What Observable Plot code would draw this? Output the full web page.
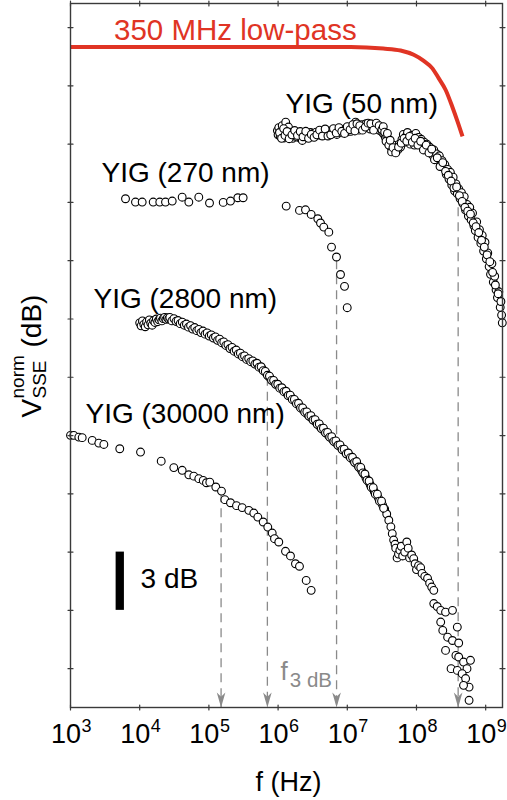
<!DOCTYPE html>
<html><head><meta charset="utf-8">
<script src="https://cdn.jsdelivr.net/npm/d3@7"></script>
<script src="https://cdn.jsdelivr.net/npm/@observablehq/plot@0.6"></script>
<style>body{margin:0;background:#fff;} #chart svg{display:block;}</style>
</head><body><div id="chart"></div>
<script>
// ---- data: [log10(f / Hz), normalized V_SSE in dB (with display offsets)] ----
const lowPass350MHz = [[3.00,32.00],[5.60,32.00],[7.05,32.00],[7.52,31.92],[7.77,31.82],[7.96,31.60],[8.10,31.30],[8.23,30.90],[8.32,30.40],[8.42,29.80],[8.52,28.90],[8.59,28.20],[8.665,27.40]];

const yig50 = [[5.99,27.70],[6.00,27.48],[6.01,27.85],[6.03,27.40],[6.04,27.62],[6.06,27.95],[6.07,27.55],[6.09,27.32],[6.11,28.13],[6.12,27.75],[6.14,27.48],[6.15,27.88],[6.17,27.38],[6.19,27.62],[6.21,27.30],[6.23,27.55],[6.25,27.40],[6.27,27.62],[6.29,27.35],[6.31,27.50],[6.33,27.28],[6.35,27.19],[6.37,27.45],[6.39,27.58],[6.41,27.36],[6.43,27.52],[6.45,27.40],[6.47,27.60],[6.49,27.42],[6.51,27.55],[6.53,27.45],[6.55,27.62],[6.57,27.48],[6.59,27.58],[6.61,27.45],[6.63,27.66],[6.65,27.52],[6.67,27.70],[6.69,27.50],[6.71,27.62],[6.73,27.48],[6.75,27.68],[6.77,27.55],[6.79,27.72],[6.81,27.58],[6.83,27.65],[6.85,27.50],[6.87,27.70],[6.89,27.60],[6.91,27.75],[6.93,27.58],[6.95,27.68],[6.97,27.80],[6.99,27.62],[7.01,27.72],[7.03,27.85],[7.05,27.66],[7.07,27.90],[7.09,27.75],[7.12,28.13],[7.13,27.82],[7.15,27.95],[7.17,27.72],[7.19,27.88],[7.21,28.00],[7.23,27.80],[7.25,27.95],[7.27,28.05],[7.29,27.85],[7.31,27.98],[7.33,27.78],[7.35,27.92],[7.37,28.02],[7.39,27.84],[7.41,27.96],[7.43,27.75],[7.45,27.90],[7.47,27.70],[7.49,27.82],[7.51,27.60],[7.53,27.50],[7.55,27.35],[7.57,27.40],[7.59,27.15],[7.61,27.05],[7.63,26.85],[7.65,26.70],[7.67,26.95],[7.69,26.60],[7.71,26.80],[7.73,26.70],[7.75,27.00],[7.77,26.85],[7.79,27.25],[7.81,27.50],[7.83,27.10],[7.85,27.40],[7.87,27.60],[7.89,27.20],[7.91,27.00],[7.93,27.45],[7.95,27.30],[7.97,26.95],[7.99,27.55],[8.01,27.20],[8.03,27.35],[8.05,27.05],[8.07,27.25],[8.09,26.90],[8.11,27.10],[8.13,26.80],[8.15,27.00],[8.17,26.75],[8.19,26.85],[8.21,26.60],[8.23,26.45],[8.25,26.70],[8.27,26.35],[8.29,26.50],[8.31,26.20],[8.33,26.40],[8.35,26.00],[8.37,26.15],[8.39,25.80],[8.41,25.95],[8.43,25.45],[8.45,25.70],[8.47,25.20],[8.49,25.55],[8.51,24.90],[8.53,25.30],[8.55,24.60],[8.57,24.95],[8.59,24.45],[8.61,24.70],[8.63,24.20],[8.65,24.50],[8.67,23.95],[8.69,24.30],[8.71,23.60],[8.73,23.90],[8.75,23.30],[8.77,23.75],[8.79,23.10],[8.81,23.45],[8.83,22.80],[8.85,22.55],[8.87,23.00],[8.89,22.20],[8.91,22.60],[8.93,21.90],[8.95,22.30],[8.97,21.50],[8.99,21.95],[9.01,21.10],[9.03,21.40],[9.05,20.70],[9.07,20.30],[9.09,20.85],[9.11,19.90],[9.13,20.20],[9.15,19.50],[9.17,19.10],[9.19,19.40],[9.21,18.60],[9.23,18.20],[9.24,17.80],
  [6.02,27.60],[6.05,27.30],[6.08,27.80],[6.10,27.45],[6.13,27.65],[6.16,27.28],[6.20,27.48],[6.24,27.70],[6.28,27.45],[6.32,27.65],[6.36,27.38],[6.40,27.66],[6.44,27.30],[6.48,27.50],[6.52,27.35],[6.56,27.48],[6.60,27.72],[6.64,27.42],[6.68,27.78],[6.72,27.42],[6.76,27.48],[6.80,27.80],[6.84,27.58],[6.88,27.85],[6.92,27.66],[6.96,27.55],[7.00,27.90],[7.04,27.75],[7.08,28.00],[7.11,27.68],[7.14,28.05],[7.18,27.95],[7.22,27.72],[7.26,27.88],[7.30,28.08],[7.34,28.05],[7.38,27.72],[7.42,28.08],[7.46,27.95],[7.50,27.75],[7.52,27.90],[7.54,27.62],[7.56,27.15],[7.58,27.55],[7.60,26.95],[7.62,27.20],[7.64,26.60],[7.66,26.82],[7.70,26.55],[7.74,26.85],[7.78,27.05],[7.82,27.30],[7.86,27.15],[7.90,27.40],[7.94,27.10],[7.98,27.30],[8.02,26.95],[8.06,27.15],[8.10,26.70],[8.14,26.95],[8.18,26.55],[8.22,26.75],[8.26,26.20],[8.30,26.30],[8.34,25.85],[8.38,26.05],[8.42,25.60],[8.46,25.40],[8.50,25.10],[8.54,24.75],[8.58,24.80],[8.62,24.35],[8.66,24.05],[8.70,23.75],[8.74,23.55],[8.78,23.40],[8.82,22.95],[8.86,22.75],[8.90,22.45],[8.94,22.05],[8.98,21.70],[9.02,21.30],[9.06,20.95],[9.10,20.40],[9.14,19.75],[9.18,19.30],[9.22,18.90]];

const yig270 = [[3.795,24.19],[3.939,24.02],[4.036,24.02],[4.195,24.02],[4.290,24.02],[4.373,24.02],[4.470,24.07],[4.614,24.27],[4.710,24.02],[4.854,24.27],[5.009,23.97],[5.207,24.00],[5.312,24.07],[5.418,24.24],[5.495,24.24],[6.117,23.81],[6.309,23.59],[6.396,23.62],[6.478,23.38],[6.574,23.16],[6.613,22.94],[6.660,22.73],[6.733,22.47],[6.772,21.70],[6.844,21.19],[6.902,20.29],[6.960,19.68],[6.999,18.58]];

const yig2800 = [[4.00,17.80],[4.02,17.65],[4.04,17.90],[4.06,17.72],[4.08,17.60],[4.10,17.85],[4.12,17.70],[4.14,17.95],[4.16,17.78],[4.18,17.68],[4.20,17.92],[4.22,17.82],[4.24,18.00],[4.26,17.86],[4.28,17.96],[4.30,18.04],[4.32,17.90],[4.34,18.02],[4.36,18.08],[4.38,17.98],[4.40,18.06],[4.42,18.00],[4.45,17.98],[4.48,17.92],[4.51,17.96],[4.54,17.86],[4.57,17.82],[4.60,17.84],[4.63,17.74],[4.66,17.70],[4.69,17.66],[4.72,17.64],[4.75,17.56],[4.78,17.52],[4.81,17.50],[4.84,17.42],[4.87,17.38],[4.90,17.36],[4.93,17.30],[4.96,17.24],[4.99,17.22],[5.02,17.16],[5.05,17.10],[5.08,17.06],[5.11,16.98],[5.14,16.94],[5.17,16.86],[5.20,16.80],[5.23,16.72],[5.26,16.64],[5.29,16.58],[5.32,16.50],[5.35,16.44],[5.38,16.36],[5.41,16.29],[5.44,16.22],[5.47,16.14],[5.50,16.08],[5.53,16.00],[5.56,15.93],[5.59,15.88],[5.62,15.82],[5.65,15.76],[5.68,15.70],[5.71,15.62],[5.74,15.52],[5.77,15.44],[5.80,15.32],[5.83,15.20],[5.86,15.06],[5.89,14.94],[5.92,14.84],[5.95,14.72],[5.98,14.64],[6.01,14.54],[6.04,14.44],[6.07,14.36],[6.10,14.26],[6.13,14.16],[6.16,14.06],[6.19,13.96],[6.22,13.84],[6.25,13.74],[6.28,13.64],[6.31,13.52],[6.34,13.40],[6.37,13.29],[6.40,13.18],[6.43,13.08],[6.46,12.98],[6.49,12.88],[6.52,12.78],[6.55,12.68],[6.58,12.56],[6.61,12.44],[6.64,12.34],[6.67,12.22],[6.70,12.12],[6.73,12.00],[6.76,11.90],[6.79,11.78],[6.82,11.68],[6.85,11.58],[6.88,11.48],[6.91,11.38],[6.94,11.26],[6.97,11.16],[7.00,11.05],[7.03,10.96],[7.06,10.84],[7.09,10.72],[7.12,10.60],[7.15,10.48],[7.18,10.34],[7.21,10.18],[7.24,10.02],[7.27,9.82],[7.30,9.66],[7.33,9.48],[7.36,9.30],[7.39,9.12],[7.42,8.96],[7.45,8.78],[7.48,8.60],[7.51,8.42],[7.54,8.22],[7.57,7.96],[7.60,7.64],[7.63,7.30],[7.65,6.95],[7.67,6.62],[7.69,6.40],[7.70,6.20],[7.72,5.70],[7.74,5.90],[7.76,6.10],[7.78,6.30],[7.80,5.80],[7.83,6.00],[7.86,6.52],[7.88,6.20],[7.90,5.70],[7.93,5.85],[7.96,5.66],[7.98,5.40],[8.00,5.10],[8.03,5.30],[8.06,5.20],[8.08,4.90],[8.12,4.75],[8.16,4.65],[8.19,4.40],[8.22,4.20],[8.25,4.03],[8.25,3.35],[8.30,3.20],[8.35,3.00],[8.42,2.91],[8.52,3.00],[8.35,2.40],[8.38,1.97],[8.45,1.62],[8.52,1.45],[8.59,2.14],[8.61,1.32],[8.42,0.94],[8.57,0.68],[8.61,0.60],[8.50,0.00],[8.59,-0.09],[8.68,0.34],[8.78,0.43],[8.73,0.00],[8.66,-0.26],[8.71,-0.51],[8.76,-0.95],[8.68,-0.86],[8.76,-1.63],
  [4.435,18.08],[4.465,17.90],[4.495,18.02],[4.525,17.88],[4.555,17.92],[4.585,17.76],[4.615,17.84],[4.645,17.68],[4.675,17.74],[4.705,17.58],[4.735,17.66],[4.765,17.48],[4.795,17.56],[4.825,17.40],[4.855,17.46],[4.885,17.30],[4.915,17.38],[4.945,17.22],[4.975,17.28],[5.005,17.12],[5.035,17.18],[5.065,17.02],[5.095,17.08],[5.125,16.90],[5.155,16.96],[5.185,16.78],[5.215,16.82],[5.245,16.64],[5.275,16.68],[5.305,16.48],[5.335,16.54],[5.365,16.34],[5.395,16.40],[5.425,16.20],[5.455,16.24],[5.485,16.06],[5.515,16.10],[5.545,15.92],[5.575,15.96],[5.605,15.80],[5.635,15.84],[5.665,15.68],[5.695,15.72],[5.725,15.52],[5.755,15.54],[5.785,15.34],[5.815,15.30],[5.845,15.10],[5.875,15.06],[5.905,14.84],[5.935,14.84],[5.965,14.64],[5.995,14.64],[6.025,14.44],[6.055,14.46],[6.085,14.26],[6.115,14.28],[6.145,14.06],[6.175,14.08],[6.205,13.86],[6.235,13.86],[6.265,13.64],[6.295,13.66],[6.325,13.42],[6.355,13.42],[6.385,13.20],[6.415,13.22],[6.445,13.00],[6.475,13.02],[6.505,12.80],[6.535,12.82],[6.565,12.58],[6.595,12.60],[6.625,12.36],[6.655,12.38],[6.685,12.14],[6.715,12.16],[6.745,11.92],[6.775,11.94],[6.805,11.70],[6.835,11.72],[6.865,11.50],[6.895,11.52],[6.925,11.28],[6.955,11.30],[6.985,11.06],[7.015,11.10],[7.045,10.86],[7.075,10.88],[7.105,10.62],[7.135,10.66],[7.165,10.38],[7.195,10.36],[7.225,10.08],[7.255,10.02],[7.285,9.70],[7.315,9.66],[7.345,9.34],[7.375,9.32],[7.405,8.98],[7.435,8.98],[7.465,8.62],[7.495,8.62],[7.525,8.26]];

const yig30000 = [[3.000,12.01],[3.048,12.01],[3.120,11.92],[3.169,11.89],[3.314,11.75],[3.409,11.61],[3.482,11.54],[3.712,11.32],[4.012,11.15],[4.311,10.68],[4.493,10.35],[4.614,10.21],[4.710,9.98],[4.782,9.91],[4.854,9.78],[4.918,9.69],[4.965,9.57],[5.013,9.60],[5.100,9.35],[5.182,9.14],[5.230,8.70],[5.312,8.54],[5.399,8.39],[5.481,8.29],[5.577,8.15],[5.649,8.01],[5.707,7.80],[5.785,7.55],[5.851,7.29],[5.915,6.98],[5.948,6.69],[6.010,6.52],[6.107,6.04],[6.179,5.80],[6.251,5.40],[6.309,5.27],[6.406,4.54],[6.478,4.03]];

// 3 dB cut-off frequencies (Hz) and the level where each dashed marker starts (dB)
const f3dBFreqs = [1.5e5, 7.0e5, 7.0e6, 4.0e8];
const f3dBTops  = [9.0, 15.0, 21.0, 24.5];

const sampleNames  = ["YIG (50 nm)", "YIG (270 nm)", "YIG (2800 nm)", "YIG (30000 nm)"];
const sampleLabelLogF = [6.107, 3.448, 3.332, 3.217];
const sampleLabelDb   = [28.58, 25.03, 18.59, 12.62];

const xTickExponents = [3, 4, 5, 6, 7, 8, 9];
const yTicksDb = [0, 3, 6, 9, 12, 15, 18, 21, 24, 27, 30, 33];

// ---- build tables ----
const toRows = (arr) => arr.map(([lf, db]) => ({f: 10 ** lf, db}));
const red = "#e03424";
const gray = "#8a8a8a";
const axisColor = "#3a3a3a";
const FONT = "'Liberation Sans', Arial, Helvetica, sans-serif";

const f3dB = f3dBFreqs.map((f, i) => ({f, top: f3dBTops[i]}));
const sampleLabels = sampleNames.map((t, i) => ({t, f: 10 ** sampleLabelLogF[i], db: sampleLabelDb[i]}));

const tickLine = {draw(ctx, l) { ctx.moveTo(0, 0); ctx.lineTo(0, -l); }};
const arrowHead = {draw(ctx, l) { ctx.moveTo(0, -l); ctx.lineTo(4.3, 0); ctx.lineTo(0, -l * 0.28); ctx.lineTo(-4.3, 0); ctx.closePath(); }};

const dotStyle = {x: "f", y: "db", r: 3.9, fill: "white", stroke: "black", strokeWidth: 1.1};

const chart = Plot.plot({
  width: 507, height: 800,
  marginTop: 3, marginBottom: 93, marginLeft: 70, marginRight: 5,
  x: {type: "log", domain: [1e3, 10 ** 9.243], axis: null},
  y: {domain: [-2, 34.24], axis: null},
  style: {fontFamily: FONT, background: "#fff", overflow: "visible"},
  marks: [
    Plot.ruleX(f3dB, {x: "f", y1: "top", y2: () => -2, stroke: gray, strokeWidth: 1.3, strokeDasharray: "9,6"}),
    Plot.dot(toRows(yig30000), dotStyle),
    Plot.dot(toRows(yig2800), dotStyle),
    Plot.dot(toRows(yig270), dotStyle),
    Plot.dot(toRows(yig50), dotStyle),
    Plot.line(toRows(lowPass350MHz), {x: "f", y: "db", stroke: red, strokeWidth: 4, curve: "monotone-x", strokeLinecap: "butt"}),
    Plot.vector(f3dB, {x: "f", frameAnchor: "bottom", anchor: "end", rotate: 180, length: 15, shape: arrowHead, fill: gray, stroke: "none"}),
    Plot.frame({stroke: axisColor, strokeWidth: 1.4}),
    Plot.vector(xTickExponents, {x: d => 10 ** d, frameAnchor: "bottom", rotate: 0, length: 5, shape: tickLine, stroke: axisColor, strokeWidth: 1.2}),
    Plot.vector(xTickExponents, {x: d => 10 ** d, frameAnchor: "top", rotate: 180, length: 5, shape: tickLine, stroke: axisColor, strokeWidth: 1.2}),
    Plot.vector(yTicksDb, {y: d => d, frameAnchor: "left", rotate: 90, length: 5, shape: tickLine, stroke: axisColor, strokeWidth: 1.2}),
    Plot.vector(yTicksDb, {y: d => d, frameAnchor: "right", rotate: -90, length: 5, shape: tickLine, stroke: axisColor, strokeWidth: 1.2}),
    Plot.text(xTickExponents, {x: d => 10 ** d, text: () => "10", frameAnchor: "bottom", textAnchor: "end", lineAnchor: "bottom", dx: 10.5, dy: 35, fontSize: 27, fill: "black"}),
    Plot.text(xTickExponents, {x: d => 10 ** d, text: d => String(d), frameAnchor: "bottom", textAnchor: "start", lineAnchor: "bottom", dx: 11, dy: 24.5, fontSize: 18, fill: "black"}),
    Plot.text(["f (Hz)"], {text: d => d, frameAnchor: "bottom", lineAnchor: "bottom", dx: 2, dy: 83, fontSize: 27, fill: "black"}),
    Plot.text(["V"], {text: d => d, frameAnchor: "left", rotate: -90, textAnchor: "start", lineAnchor: "bottom", dx: -30, dy: 62, fontSize: 28, fill: "black"}),
    Plot.text(["norm"], {text: d => d, frameAnchor: "left", rotate: -90, textAnchor: "start", lineAnchor: "bottom", dx: -47, dy: 43, fontSize: 19, fill: "black"}),
    Plot.text(["SSE"], {text: d => d, frameAnchor: "left", rotate: -90, textAnchor: "start", lineAnchor: "bottom", dx: -25, dy: 43, fontSize: 19, fill: "black"}),
    Plot.text(["(dB)"], {text: d => d, frameAnchor: "left", rotate: -90, textAnchor: "start", lineAnchor: "bottom", dx: -30, dy: -8, fontSize: 28, fill: "black"}),
    Plot.text([{t: "350 MHz low-pass", f: 10 ** 3.629, db: 32.34}], {x: "f", y: "db", text: "t", textAnchor: "start", lineAnchor: "bottom", fontSize: 29.5, fill: red}),
    Plot.text(sampleLabels, {x: "f", y: "db", text: "t", textAnchor: "start", lineAnchor: "bottom", fontSize: 28, fill: "black"}),
    Plot.ruleX([{f: 10 ** 3.712, y1: 3, y2: 6}], {x: "f", y1: "y1", y2: "y2", stroke: "black", strokeWidth: 8.3}),
    Plot.text([{t: "3 dB", f: 10 ** 4.012, db: 4.13}], {x: "f", y: "db", text: "t", textAnchor: "start", lineAnchor: "bottom", fontSize: 28, fill: "black"}),
    Plot.text([{t: "f", f: 10 ** 6.035, db: -0.60}], {x: "f", y: "db", text: "t", textAnchor: "start", lineAnchor: "bottom", fontSize: 26, fill: gray}),
    Plot.text([{t: "3 dB", f: 10 ** 6.169, db: -0.95}], {x: "f", y: "db", text: "t", textAnchor: "start", lineAnchor: "bottom", fontSize: 20.5, fill: gray})
  ]
});
document.getElementById("chart").append(chart);
</script></body></html>
